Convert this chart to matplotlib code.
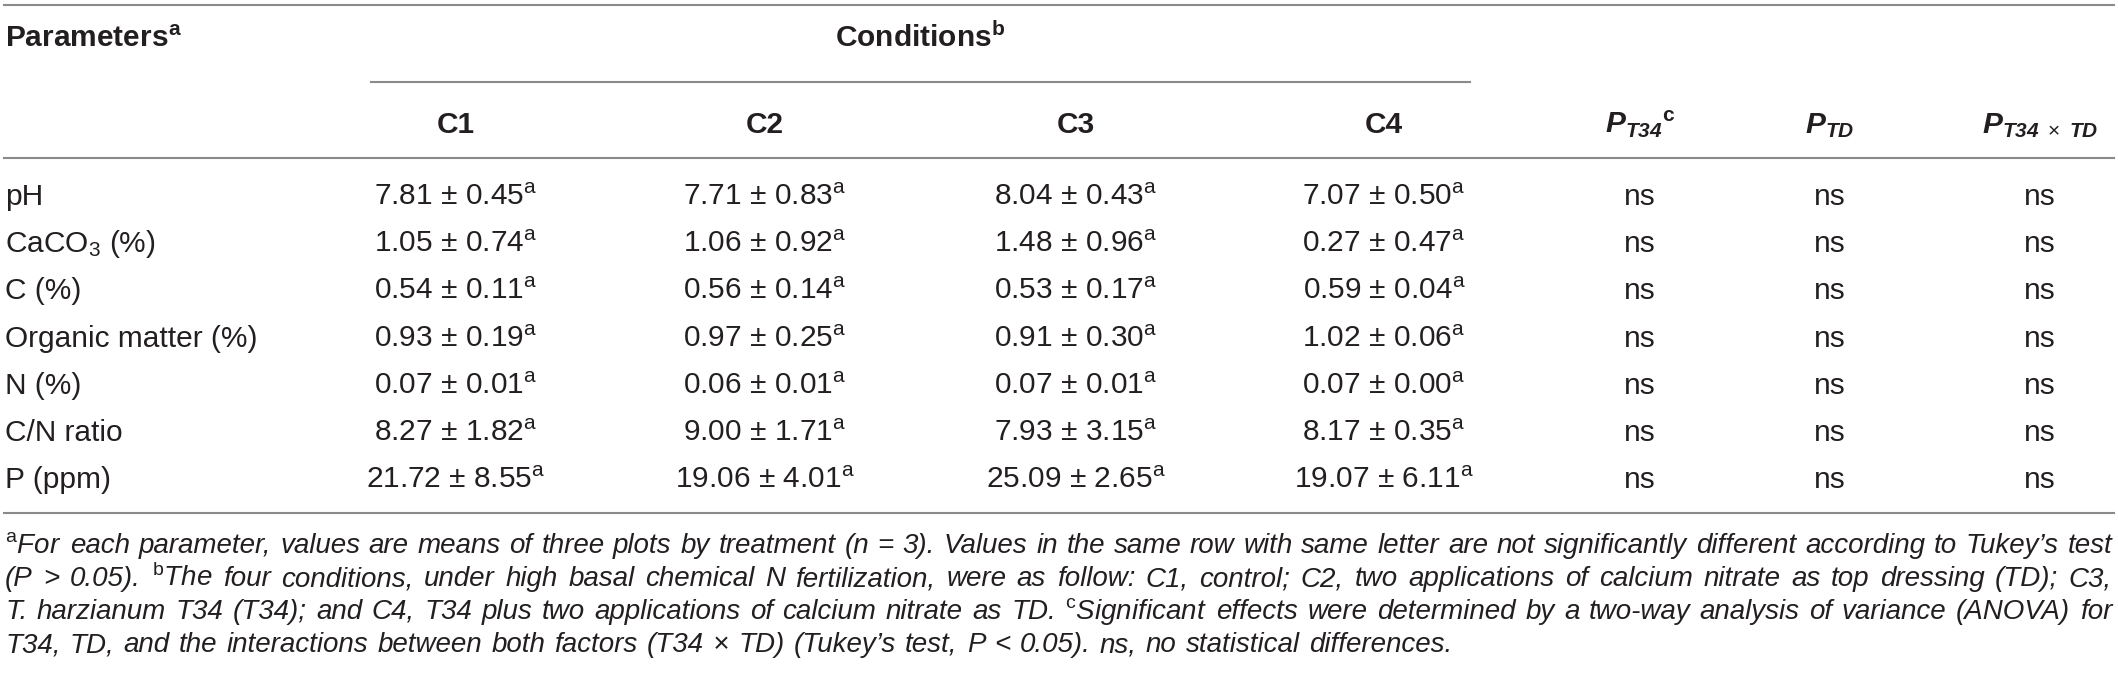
import matplotlib
matplotlib.use('Agg')
import matplotlib.pyplot as plt
from matplotlib import font_manager

# table contents
params = ['pH', 'CaCO$_3$ (%)', 'C (%)', 'Organic matter (%)', 'N (%)', 'C/N ratio', 'P (ppm)']
conditions = ['C1', 'C2', 'C3', 'C4']

c1_mean = [7.81, 1.05, 0.54, 0.93, 0.07, 8.27, 21.72]
c1_sd = [0.45, 0.74, 0.11, 0.19, 0.01, 1.82, 8.55]
c2_mean = [7.71, 1.06, 0.56, 0.97, 0.06, 9.00, 19.06]
c2_sd = [0.83, 0.92, 0.14, 0.25, 0.01, 1.71, 4.01]
c3_mean = [8.04, 1.48, 0.53, 0.91, 0.07, 7.93, 25.09]
c3_sd = [0.43, 0.96, 0.17, 0.30, 0.01, 3.15, 2.65]
c4_mean = [7.07, 0.27, 0.59, 1.02, 0.07, 8.17, 19.07]
c4_sd = [0.50, 0.47, 0.04, 0.06, 0.00, 0.35, 6.11]
c1_letter = ['a', 'a', 'a', 'a', 'a', 'a', 'a']
c2_letter = ['a', 'a', 'a', 'a', 'a', 'a', 'a']
c3_letter = ['a', 'a', 'a', 'a', 'a', 'a', 'a']
c4_letter = ['a', 'a', 'a', 'a', 'a', 'a', 'a']

p_t34 = ['ns', 'ns', 'ns', 'ns', 'ns', 'ns', 'ns']
p_td = ['ns', 'ns', 'ns', 'ns', 'ns', 'ns', 'ns']
p_int = ['ns', 'ns', 'ns', 'ns', 'ns', 'ns', 'ns']

p_headers = [r'$\mathbfit{P}_{\mathbfit{T34}}{}^{\mathbf{c}}$',
             r'$\mathbfit{P}_{\mathbfit{TD}}$',
             r'$\mathbfit{P}_{\mathbfit{T34}\ \times\ \mathbfit{TD}}$']

footnotes = [
    r'$^{\mathrm{a}}$For each parameter, values are means of three plots by treatment (n = 3). Values in the same row with same letter are not significantly different according to Tukey’s test',
    r'(P > 0.05). $^{\mathrm{b}}$The four conditions, under high basal chemical N fertilization, were as follow: C1, control; C2, two applications of calcium nitrate as top dressing (TD); C3,',
    r'T. harzianum T34 (T34); and C4, T34 plus two applications of calcium nitrate as TD. $^{\mathrm{c}}$Significant effects were determined by a two-way analysis of variance (ANOVA) for',
    r'T34, TD, and the interactions between both factors (T34 × TD) (Tukey’s test, P < 0.05). ns, no statistical differences.',
]

names = {f.name for f in font_manager.fontManager.ttflist}
fam = 'Liberation Sans' if 'Liberation Sans' in names else 'DejaVu Sans'
plt.rcParams['font.family'] = fam
plt.rcParams['mathtext.fontset'] = 'custom'
plt.rcParams['mathtext.rm'] = fam
plt.rcParams['mathtext.it'] = fam + ':italic'
plt.rcParams['mathtext.bf'] = fam + ':bold'
plt.rcParams['mathtext.bfit'] = fam + ':italic:bold'

ink = '#231f20'
rule = '#8a8a8a'
fs = 21.5

W, H = 2118, 675
fig = plt.figure(figsize=(W / 100, H / 100), dpi=100)
ax = fig.add_axes([0, 0, 1, 1])
ax.set_xlim(0, W)
ax.set_ylim(H, 0)
ax.axis('off')

# rules
ax.plot([4, 2114], [5, 5], color=rule, lw=1.5)
ax.plot([371, 1470], [82, 82], color=rule, lw=1.5)
ax.plot([4, 2114], [158, 158], color=rule, lw=1.5)
ax.plot([4, 2114], [513, 513], color=rule, lw=1.5)

cond_x = [456, 765, 1076, 1384]
p_x = [1640, 1830, 2040]

# header
ax.text(5, 47, r'Parameters$^{\mathbf{a}}$', fontsize=fs, weight='bold', color=ink, va='baseline')
ax.text(920, 47, r'Conditions$^{\mathbf{b}}$', fontsize=fs, weight='bold', color=ink,
        va='baseline', ha='center')
for x, c in zip(cond_x, conditions):
    ax.text(x, 133, c, fontsize=fs, weight='bold', color=ink, va='baseline', ha='center')
for x, h in zip(p_x, p_headers):
    ax.text(x, 133, h, fontsize=fs, color=ink, va='baseline', ha='center')

# body
means = [c1_mean, c2_mean, c3_mean, c4_mean]
sds = [c1_sd, c2_sd, c3_sd, c4_sd]
lets = [c1_letter, c2_letter, c3_letter, c4_letter]
row_y = [205 + i * 47.2 for i in range(len(params))]
for i, y in enumerate(row_y):
    ax.text(5, y, params[i], fontsize=fs, color=ink, va='baseline')
    for x, m, s, l in zip(cond_x, means, sds, lets):
        ax.text(x, y, f'{m[i]:.2f} ± {s[i]:.2f}' + r'$^{\mathrm{' + l[i] + '}}$',
                fontsize=fs, color=ink, va='baseline', ha='center')
    for x, col in zip(p_x, [p_t34, p_td, p_int]):
        ax.text(x, y, col[i], fontsize=fs, color=ink, va='baseline', ha='center')

# footnotes, justified like the journal layout
renderer = fig.canvas.get_renderer()
x0, x1 = 5, 2112
min_gap = 0.2


def word_widths(words, size):
    objs = [ax.text(0, 0, w, fontsize=size, style='italic') for w in words]
    ws = [o.get_window_extent(renderer).width for o in objs]
    for o in objs:
        o.remove()
    return ws


# largest size where every justified line still keeps a minimal word gap
fn_fs = 20.0
while fn_fs > 12:
    sp = fn_fs * 100 / 72 * min_gap
    ok = True
    for line in footnotes[:-1]:
        words = line.split(' ')
        if sum(word_widths(words, fn_fs)) + sp * (len(words) - 1) > x1 - x0:
            ok = False
            break
    if ok:
        break
    fn_fs -= 0.25

fn_y = [553, 586, 619, 652]
for k, (line, y) in enumerate(zip(footnotes, fn_y)):
    words = line.split(' ')
    widths = word_widths(words, fn_fs)
    if k < len(footnotes) - 1:
        gap = (x1 - x0 - sum(widths)) / (len(words) - 1)
    else:
        gap = fn_fs * 100 / 72 * 0.33
    x = x0
    for w, wd in zip(words, widths):
        ax.text(x, y, w, fontsize=fn_fs, style='italic', color=ink, va='baseline')
        x += wd + gap

fig.savefig('out.png', dpi=100)
